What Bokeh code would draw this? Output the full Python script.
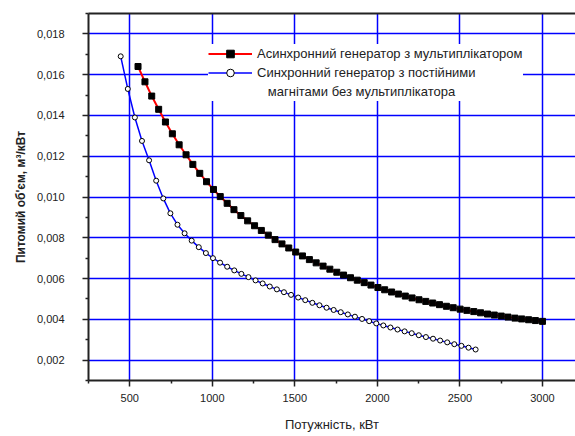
from bokeh.plotting import figure
from bokeh.models import (Range1d, LinearAxis, FixedTicker, Legend, LegendItem)
from bokeh.embed import file_html
from bokeh.resources import INLINE

# ---- data ----
power_1 = [550, 592, 633, 675, 716, 758, 799, 841, 882, 924, 965, 1007, 1048, 1090, 1131,
           1173, 1214, 1256, 1297, 1339, 1380, 1422, 1463, 1505, 1546, 1588, 1629, 1671, 1712,
           1754, 1795, 1837, 1878, 1920, 1961, 2003, 2044, 2086, 2127, 2169, 2210, 2252, 2293,
           2335, 2376, 2418, 2459, 2501, 2542, 2584, 2625, 2667, 2708, 2750, 2791, 2833, 2874,
           2916, 2957, 3000]
volume_1 = [0.0164, 0.01565, 0.01495, 0.0143, 0.01368, 0.0131, 0.01256, 0.01207, 0.0116, 0.01116,
            0.01075, 0.01037, 0.01002, 0.00969, 0.00938, 0.00909, 0.00883, 0.00859, 0.00836, 0.00813,
            0.00791, 0.0077, 0.0075, 0.0073, 0.00711, 0.00693, 0.00677, 0.00661, 0.00646, 0.00631,
            0.00617, 0.00604, 0.00592, 0.0058, 0.00568, 0.00556, 0.00545, 0.00534, 0.00524, 0.00514,
            0.00505, 0.00496, 0.00488, 0.0048, 0.00472, 0.00464, 0.00457, 0.0045, 0.00444, 0.00438,
            0.00432, 0.00426, 0.00421, 0.00416, 0.00411, 0.00406, 0.00402, 0.00398, 0.00394, 0.0039]

power_2 = [445, 488, 531, 574, 617, 660, 703, 746, 789, 832, 875, 918, 961, 1004, 1047, 1090,
           1133, 1176, 1219, 1262, 1305, 1348, 1391, 1434, 1477, 1520, 1563, 1606, 1649, 1692,
           1735, 1778, 1821, 1864, 1907, 1950, 1993, 2036, 2079, 2122, 2165, 2208, 2251, 2294,
           2337, 2380, 2423, 2466, 2509, 2552, 2595]
volume_2 = [0.0169, 0.0153, 0.0139, 0.01275, 0.0118, 0.0108, 0.00993, 0.0092, 0.00864, 0.00822,
            0.00786, 0.00754, 0.00725, 0.007, 0.00678, 0.00658, 0.0064, 0.00623, 0.00607, 0.00591,
            0.00576, 0.00561, 0.00547, 0.00533, 0.0052, 0.00507, 0.00494, 0.00481, 0.00469, 0.00457,
            0.00446, 0.00435, 0.00424, 0.00413, 0.00402, 0.00391, 0.0038, 0.0037, 0.0036, 0.0035,
            0.00341, 0.00332, 0.00322, 0.00313, 0.00305, 0.00296, 0.00287, 0.00278, 0.0027, 0.00261,
            0.00252]

x_ticks = [500, 1000, 1500, 2000, 2500, 3000]
x_minor_ticks = [250, 750, 1250, 1750, 2250, 2750, 3250]
x_tick_labels = ["500", "1000", "1500", "2000", "2500", "3000"]
y_ticks = [0.002, 0.004, 0.006, 0.008, 0.010, 0.012, 0.014, 0.016, 0.018]
y_minor_ticks = [0.001, 0.003, 0.005, 0.007, 0.009, 0.011, 0.013, 0.015, 0.017, 0.019]
y_tick_labels = ["0,002", "0,004", "0,006", "0,008", "0,010", "0,012", "0,014", "0,016", "0,018"]

series_labels = ["Асинхронний генератор з мультиплікатором",
                 "Синхронний генератор з постійними",
                 "   магнітами без мультиплікатора"]
x_title = "Потужність, кВт"
y_title = "Питомий об'єм, м³/кВт"

FONT = "Liberation Sans"

p = figure(width=575, height=436, output_backend="svg", toolbar_location=None,
           x_range=Range1d(250, 3200), y_range=Range1d(0.001, 0.019),
           min_border_left=88, min_border_right=0, min_border_top=13, min_border_bottom=56,
           background_fill_color="white", border_fill_color="white")
p.outline_line_color = None

# axes
xt = FixedTicker(ticks=x_ticks, minor_ticks=x_minor_ticks)
yt = FixedTicker(ticks=y_ticks, minor_ticks=y_minor_ticks)
p.xaxis.ticker = xt
p.yaxis.ticker = yt
p.xaxis.major_label_overrides = {t: s for t, s in zip(x_ticks, x_tick_labels)}
p.yaxis.major_label_overrides = {t: s for t, s in zip(y_ticks, y_tick_labels)}

for ax in (p.xaxis[0], p.yaxis[0]):
    ax.axis_line_width = 2
    ax.axis_line_color = "#222222"
    ax.major_tick_line_color = "#222222"
    ax.major_tick_line_width = 1.5
    ax.minor_tick_line_color = "#222222"
    ax.minor_tick_line_width = 1.5
    ax.major_tick_in = 0
    ax.major_tick_out = 6
    ax.minor_tick_in = 0
    ax.minor_tick_out = 3
    ax.major_label_text_font = FONT
    ax.major_label_text_font_size = "11px"
    ax.major_label_text_color = "#222222"
    ax.axis_label_text_font = FONT
    ax.axis_label_text_color = "#222222"

p.xaxis.axis_label = x_title
p.xaxis.axis_label_text_font_size = "13px"
p.xaxis.axis_label_text_font_style = "normal"
p.xaxis.major_label_standoff = 7
p.xaxis.axis_label_standoff = 12
p.yaxis.axis_label = y_title
p.yaxis.axis_label_text_font_size = "12px"
p.yaxis.axis_label_text_font_style = "bold"
p.yaxis.major_label_standoff = 18
p.yaxis.axis_label_standoff = 6

top_axis = LinearAxis(ticker=FixedTicker(ticks=[]), axis_line_width=2, axis_line_color="#222222",
                      major_tick_line_color=None, minor_tick_line_color=None,
                      major_label_text_font_size="0px")
p.add_layout(top_axis, "above")

# grid
p.xgrid.ticker = xt
p.ygrid.ticker = yt
for g in (p.xgrid[0], p.ygrid[0]):
    g.grid_line_color = "#0000ff"
    g.grid_line_width = 1.5
    g.grid_line_alpha = 1.0

# series
r1_line = p.line(power_1, volume_1, line_color="red", line_width=2)
r1_pts = p.scatter(power_1, volume_1, marker="square", size=6,
                   fill_color="black", line_color="black")
r2_line = p.line(power_2, volume_2, line_color="blue", line_width=1.5)
r2_pts = p.scatter(power_2, volume_2, marker="circle", size=5,
                   fill_color="white", line_color="black", line_width=1)
blank = p.scatter(x=[], y=[], alpha=0)

legend = Legend(items=[LegendItem(label=series_labels[0], renderers=[r1_line, r1_pts]),
                       LegendItem(label=series_labels[1], renderers=[r2_line, r2_pts]),
                       LegendItem(label=series_labels[2], renderers=[blank])],
                location=(120, 279), orientation="vertical",
                background_fill_color="white", background_fill_alpha=1.0,
                border_line_color=None, padding=3, spacing=0, margin=0,
                glyph_width=44, glyph_height=19, label_height=19, label_standoff=5,
                label_text_font=FONT, label_text_font_size="13px",
                label_text_color="#222222")
p.add_layout(legend, "center")

open("out.html", "w").write(file_html(p, INLINE))
